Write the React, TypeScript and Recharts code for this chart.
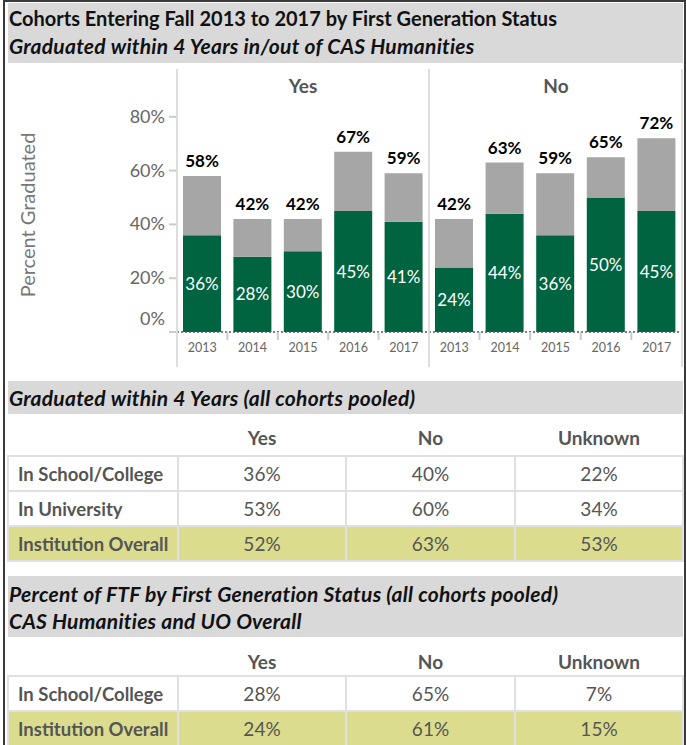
import React from "react";
import { BarChart, Bar, XAxis, YAxis, LabelList } from "recharts";

// cohorts, graduated within 4 years (total) and the part inside CAS Humanities
const years = ["2013", "2014", "2015", "2016", "2017"];
const yesTotal = [58, 42, 42, 67, 59];
const yesInCas = [36, 28, 30, 45, 41];
const noTotal = [42, 63, 59, 65, 72];
const noInCas = [24, 44, 36, 50, 45];
const yTicks = [0, 20, 40, 60, 80];

// pooled tables
const tableCols = ["Yes", "No", "Unknown"];
const gradRowLabels = ["In School/College", "In University", "Institution Overall"];
const gradYes = [36, 53, 52];
const gradNo = [40, 60, 63];
const gradUnknown = [22, 34, 53];
const ftfRowLabels = ["In School/College", "Institution Overall"];
const ftfYes = [28, 24];
const ftfNo = [65, 61];
const ftfUnknown = [7, 15];

const GREEN = "#006440";
const GRAY = "#a6a6a6";
const BAND = "#d9d9d9";
const KHAKI = "#dcdc8e";
const TEXT_GRAY = "#555";
const FONT = "Lato, 'Open Sans', sans-serif";

const PLOT_W = 252;
const CHART_H = 312;
const X_AXIS_H = 43;

function buildRows(totals: number[], inCas: number[]) {
    return years.map((year, i) => ({
        year,
        inCas: inCas[i],
        outCas: totals[i] - inCas[i],
        total: totals[i],
    }));
}

const pct = (v: any) => `${v}%`;

function YearTick(props: any) {
    const { x, y, payload, index } = props;
    const band = PLOT_W / years.length;
    const axisY = y; // tickSize and tickMargin are 0
    return (
        <g>
            <text x={x} y={axisY + 20} textAnchor="middle" fill="#666" fontSize={12.5} fontFamily={FONT}>
                {payload.value}
            </text>
            {index < years.length - 1 && (
                <line x1={x + band / 2} x2={x + band / 2} y1={axisY} y2={axisY + 8} stroke="#ccc" strokeWidth={2} />
            )}
        </g>
    );
}

function PctTick(props: any) {
    const { x, y, payload } = props;
    // 0% label sits a bit above its tick, like the original
    const shift = payload.value === 0 ? -13 : 0;
    return (
        <text x={x} y={y + shift} dy={6} textAnchor="end" fill="#666" fontSize={18} fontFamily={FONT}>
            {payload.value}%
        </text>
    );
}

function PanelChart({ rows, withAxis }: { rows: any[]; withAxis: boolean }) {
    return (
        <BarChart
            width={withAxis ? 177 + PLOT_W : PLOT_W + 1}
            height={CHART_H}
            data={rows}
            margin={{ top: 0, right: 0, left: 0, bottom: 0 }}
        >
            <XAxis
                dataKey="year"
                height={X_AXIS_H}
                tickSize={0}
                tickMargin={0}
                tickLine={false}
                axisLine={{ stroke: "#555", strokeDasharray: "2 2", strokeWidth: 1.5 }}
                tick={<YearTick />}
                interval={0}
            />
            {withAxis ? (
                <YAxis
                    width={177}
                    domain={[0, 100]}
                    ticks={yTicks}
                    axisLine={false}
                    tickLine={{ stroke: "#ccc", strokeWidth: 2 }}
                    tickSize={8}
                    tickMargin={4}
                    tick={<PctTick />}
                />
            ) : (
                <YAxis hide domain={[0, 100]} />
            )}
            <Bar dataKey="inCas" stackId="g" fill={GREEN} barSize={38} isAnimationActive={false}>
                <LabelList
                    dataKey="inCas"
                    position="center"
                    fill="#fff"
                    fontSize={17}
                    fontFamily={FONT}
                    formatter={pct}
                />
            </Bar>
            <Bar dataKey="outCas" stackId="g" fill={GRAY} barSize={38} isAnimationActive={false}>
                <LabelList
                    dataKey="total"
                    position="top"
                    offset={9}
                    fill="#000"
                    fontSize={17}
                    fontWeight={700}
                    fontFamily={FONT}
                    formatter={pct}
                />
            </Bar>
        </BarChart>
    );
}

function PooledTable({
    top,
    headerH,
    padBottom,
    labels,
    cols,
}: {
    top: number;
    headerH: number;
    padBottom: number;
    labels: string[];
    cols: number[][];
}) {
    const cell = { border: "2px solid #e0e0e0", padding: 0, textAlign: "center" as const };
    return (
        <table
            style={{
                position: "absolute",
                left: 7,
                top,
                width: 675,
                borderCollapse: "collapse",
                tableLayout: "fixed",
                fontFamily: FONT,
                fontSize: 19,
                color: TEXT_GRAY,
                lineHeight: "22px",
            }}
        >
            <colgroup>
                <col style={{ width: 170 }} />
                <col style={{ width: 168 }} />
                <col style={{ width: 169 }} />
                <col style={{ width: 168 }} />
            </colgroup>
            <tbody>
                <tr style={{ height: headerH }}>
                    <td />
                    {tableCols.map((c) => (
                        <td
                            key={c}
                            style={{ fontWeight: 700, textAlign: "center", verticalAlign: "bottom", padding: 0, paddingBottom: padBottom }}
                        >
                            {c}
                        </td>
                    ))}
                </tr>
                {labels.map((label, r) => {
                    const bg = label === "Institution Overall" ? KHAKI : "#fff";
                    return (
                        <tr key={label} style={{ height: 35, background: bg }}>
                            <td style={{ ...cell, textAlign: "left", paddingLeft: 9, fontWeight: 700, fontSize: 18.5 }}>{label}</td>
                            {cols.map((col, c) => (
                                <td key={c} style={cell}>
                                    {col[r]}%
                                </td>
                            ))}
                        </tr>
                    );
                })}
            </tbody>
        </table>
    );
}

const headerText = { fontFamily: FONT, fontSize: 20, fontWeight: 700, color: "#111", lineHeight: "27px", whiteSpace: "nowrap" as const };
const italicText = { ...headerText, fontStyle: "italic", fontSize: 21, letterSpacing: 0.25 };

export default function App() {
    const yesRows = buildRows(yesTotal, yesInCas);
    const noRows = buildRows(noTotal, noInCas);
    const vline = (left: number) => (
        <div style={{ position: "absolute", left, top: 69, width: 2, height: 298, background: "#dedede" }} />
    );
    return (
        <div
            style={{
                position: "absolute",
                left: 0,
                top: 0,
                width: 686,
                height: 745,
                background: "#fff",
                overflow: "hidden",
                fontFamily: FONT,
            }}
        >
            <div
                style={{
                    position: "absolute",
                    left: 3,
                    top: 0,
                    width: 683,
                    height: 780,
                    border: "2px solid #3a3a3a",
                    boxSizing: "border-box",
                }}
            />

            {/* title band */}
            <div style={{ position: "absolute", left: 8, top: 3, width: 675, height: 60, background: BAND }}>
                <div style={{ ...headerText, position: "absolute", left: 1, top: 2 }}>
                    Cohorts Entering Fall 2013 to 2017 by First Generation Status
                </div>
                <div style={{ ...italicText, position: "absolute", left: 1, top: 29 }}>
                    Graduated within 4 Years in/out of CAS Humanities
                </div>
            </div>

            {/* chart panels */}
            <div style={{ position: "absolute", left: 0, top: 63 }}>
                <PanelChart rows={yesRows} withAxis />
            </div>
            <div style={{ position: "absolute", left: 429, top: 63 }}>
                <PanelChart rows={noRows} withAxis={false} />
            </div>
            {vline(176)}
            {vline(428)}
            {vline(681)}
            <div
                style={{
                    position: "absolute",
                    left: 13,
                    top: 215 - 12,
                    width: 28,
                    height: 24,
                }}
            >
                <div
                    style={{
                        position: "absolute",
                        left: 14,
                        top: 12,
                        transform: "translate(-50%, -50%) rotate(-90deg)",
                        whiteSpace: "nowrap",
                        fontSize: 20,
                        color: "#777",
                        lineHeight: "24px",
                    }}
                >
                    Percent Graduated
                </div>
            </div>
            <div style={{ position: "absolute", left: 177, top: 74, width: 252, textAlign: "center", fontSize: 19, fontWeight: 700, color: TEXT_GRAY, lineHeight: "24px" }}>
                Yes
            </div>
            <div style={{ position: "absolute", left: 430, top: 74, width: 252, textAlign: "center", fontSize: 19, fontWeight: 700, color: TEXT_GRAY, lineHeight: "24px" }}>
                No
            </div>

            {/* pooled graduation table */}
            <div style={{ position: "absolute", left: 8, top: 381, width: 675, height: 33, background: BAND }}>
                <div style={{ ...italicText, position: "absolute", left: 1, top: 3 }}>
                    Graduated within 4 Years (all cohorts pooled)
                </div>
            </div>
            <PooledTable top={414} headerH={42} padBottom={6} labels={gradRowLabels} cols={[gradYes, gradNo, gradUnknown]} />

            {/* FTF share table */}
            <div style={{ position: "absolute", left: 8, top: 576, width: 675, height: 61, background: BAND }}>
                <div style={{ ...italicText, position: "absolute", left: 1, top: 4 }}>
                    Percent of FTF by First Generation Status (all cohorts pooled)
                </div>
                <div style={{ ...italicText, position: "absolute", left: 1, top: 31 }}>
                    CAS Humanities and UO Overall
                </div>
            </div>
            <PooledTable top={637} headerH={39} padBottom={2} labels={ftfRowLabels} cols={[ftfYes, ftfNo, ftfUnknown]} />
        </div>
    );
}
